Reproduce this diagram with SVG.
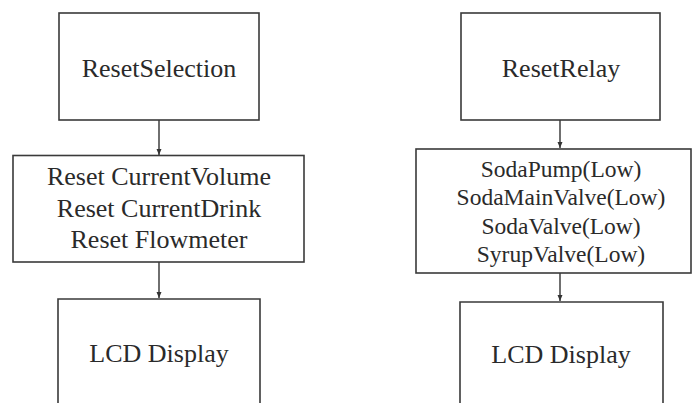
<svg xmlns="http://www.w3.org/2000/svg" width="693" height="403" viewBox="0 0 693 403">
<style>
.box{fill:#fff;stroke:#3a3a3a;stroke-width:1.6}
.t{font-family:"Liberation Serif","Times New Roman",serif;fill:#2a2a2a;text-anchor:middle}
.big{font-size:26px}
.mid{font-size:23.5px}
.c{stroke:#333;stroke-width:1.4;fill:none;marker-end:url(#ah)}
</style>
<defs>
<marker id="ah" viewBox="0 0 6 6" refX="6" refY="3" markerWidth="6" markerHeight="6" markerUnits="userSpaceOnUse" orient="auto">
<path d="M0,0.5 L6,3 L0,5.5 z" fill="#333"/>
</marker>
</defs>
<rect width="693" height="403" fill="#fff"/>
<g id="connectors">
<line class="c" x1="159" y1="120" x2="159" y2="155"/>
<line class="c" x1="159" y1="262" x2="159" y2="298"/>
<line class="c" x1="560" y1="120" x2="560" y2="148"/>
<line class="c" x1="560" y1="273" x2="560" y2="301"/>
</g>
<g id="resetSelection">
<rect class="box" x="59" y="13" width="200" height="107"/>
<text class="t big" x="159" y="77">ResetSelection</text>
</g>
<g id="resetVars">
<rect class="box" x="13" y="155.5" width="291" height="106.5"/>
<text class="t big" x="159" y="185">Reset CurrentVolume</text>
<text class="t big" x="159" y="217">Reset CurrentDrink</text>
<text class="t big" x="159" y="248">Reset Flowmeter</text>
</g>
<g id="lcdLeft">
<path class="box" d="M58,404 V299 H260 V404"/>
<text class="t big" x="159" y="362">LCD Display</text>
</g>
<g id="resetRelay">
<rect class="box" x="461" y="13" width="199" height="107"/>
<text class="t big" x="561" y="77">ResetRelay</text>
</g>
<g id="relayOutputs">
<rect class="box" x="416" y="149" width="275" height="124"/>
<text class="t mid" x="561" y="177">SodaPump(Low)</text>
<text class="t mid" x="561" y="205">SodaMainValve(Low)</text>
<text class="t mid" x="561" y="234">SodaValve(Low)</text>
<text class="t mid" x="561" y="262">SyrupValve(Low)</text>
</g>
<g id="lcdRight">
<path class="box" d="M460,404 V302 H663 V404"/>
<text class="t big" x="561" y="363">LCD Display</text>
</g>
</svg>
